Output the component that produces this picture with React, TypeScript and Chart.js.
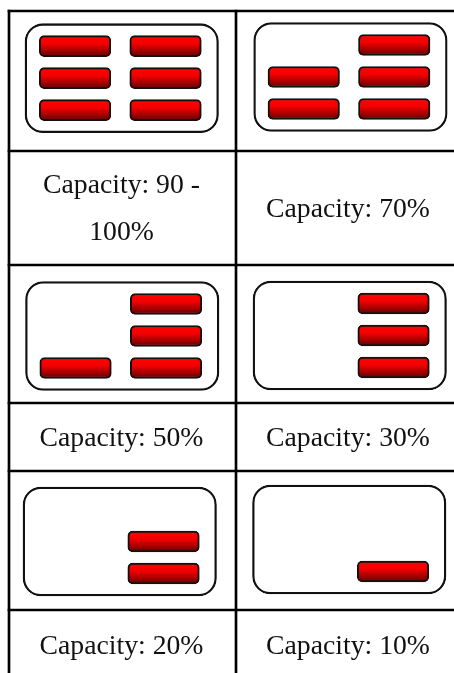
import React, { useEffect, useRef } from "react";
import { Chart, registerables } from "chart.js";

Chart.register(...registerables);

// ---- data ----
const captions = [
  ["Capacity: 90 -", "100%"],
  ["Capacity: 70%"],
  ["Capacity: 50%"],
  ["Capacity: 30%"],
  ["Capacity: 20%"],
  ["Capacity: 10%"],
];
// Filled cells in each icon, as [column, row]
const filled90: number[][] = [[0, 0], [1, 0], [0, 1], [1, 1], [0, 2], [1, 2]];
const filled70: number[][] = [[1, 0], [0, 1], [1, 1], [0, 2], [1, 2]];
const filled50: number[][] = [[1, 0], [1, 1], [0, 2], [1, 2]];
const filled30: number[][] = [[1, 0], [1, 1], [1, 2]];
const filled20: number[][] = [[1, 1], [1, 2]];
const filled10: number[][] = [[1, 2]];
const filledCells = [filled90, filled70, filled50, filled30, filled20, filled10];

// ---- layout, in page pixels (scales run 0..454 and 0..673) ----
const W = 454;
const H = 673;
const frameLeft = [25, 253.7, 25.5, 253, 23, 252.5];
const frameTop = [23.7, 22.5, 281.5, 281, 487, 485];
const frameW = 193.5;
const frameH = 109;
const slotDX = [14.3, 104.8];
const slotDY = [12, 44, 76];
const slotW = 71.5;
const slotH = 21;
const rowLines = [11, 151, 265, 403, 471, 610];
const colLines = [9, 236];
const textCx = [121.5, 348];
const textY = [[193, 240], [217], [446], [446], [654], [654]];

function App() {
  const ref = useRef<HTMLCanvasElement | null>(null);
  useEffect(() => {
    if (!ref.current) return;

    const frames = frameLeft.map((l, i) => ({
      x: [l, l + frameW],
      y: frameTop[i] + frameH / 2,
    }));
    const slots = filledCells.flatMap((cells, i) =>
      cells.map(([c, r]) => ({
        x: [frameLeft[i] + slotDX[c], frameLeft[i] + slotDX[c] + slotW],
        y: frameTop[i] + slotDY[r] + slotH / 2,
      }))
    );
    const hLines = rowLines.map((y) => ({ x: [colLines[0] - 1, W], y }));
    const vBars = colLines.map((x) => ({ x: [x - 1, x + 1], y: (rowLines[0] - 1 + H) / 2 }));

    const textPlugin = {
      id: "captions",
      afterDatasetsDraw(chart: any) {
        const { ctx, scales } = chart;
        ctx.save();
        ctx.fillStyle = "#111";
        ctx.font = '27.7px "Liberation Serif"';
        ctx.textAlign = "center";
        ctx.textBaseline = "alphabetic";
        captions.forEach((lines, i) => {
          lines.forEach((t, j) => {
            ctx.fillText(
              t,
              scales.x.getPixelForValue(textCx[i % 2]),
              scales.y.getPixelForValue(textY[i][j])
            );
          });
        });
        ctx.restore();
      },
    };

    const chart = new Chart(ref.current, {
      type: "bar",
      data: {
        datasets: [
          {
            label: "slots",
            data: slots as any,
            order: 1,
            barThickness: slotH,
            borderWidth: 2,
            borderColor: "#111",
            borderSkipped: false,
            borderRadius: 5,
            backgroundColor: (c: any) => {
              const raw = c.raw;
              if (!raw) return "#e00";
              const y = c.chart.scales.y.getPixelForValue(raw.y);
              if (!Number.isFinite(y)) return "#e00";
              const g = c.chart.ctx.createLinearGradient(0, y - slotH / 2 + 2, 0, y + slotH / 2 - 2);
              g.addColorStop(0, "#ff0000");
              g.addColorStop(0.35, "#f40000");
              g.addColorStop(1, "#780000");
              return g;
            },
          },
          {
            label: "frames",
            data: frames as any,
            order: 2,
            barThickness: frameH,
            borderWidth: 2.3,
            borderColor: "#111",
            backgroundColor: "#fff",
            borderSkipped: false,
            borderRadius: 18,
          },
          {
            label: "row rules",
            data: hLines as any,
            order: 3,
            barThickness: 2,
            backgroundColor: "#000",
          },
          {
            label: "column rules",
            data: vBars as any,
            order: 3,
            barThickness: H - rowLines[0] + 1,
            backgroundColor: "#000",
          },
        ],
      },
      options: {
        indexAxis: "y",
        responsive: false,
        animation: false,
        layout: { padding: 0 },
        datasets: { bar: { grouped: false } },
        plugins: { legend: { display: false }, tooltip: { enabled: false } },
        scales: {
          x: { type: "linear", min: 0, max: W, display: false, offset: false },
          y: { type: "linear", min: 0, max: H, reverse: true, display: false, offset: false },
        },
      } as any,
      plugins: [textPlugin],
    });
    return () => chart.destroy();
  }, []);

  return (
    <canvas
      ref={ref}
      width={W}
      height={H}
      style={{ position: "absolute", left: 0, top: 0, width: W, height: H, display: "block" }}
    />
  );
}

export default App;
